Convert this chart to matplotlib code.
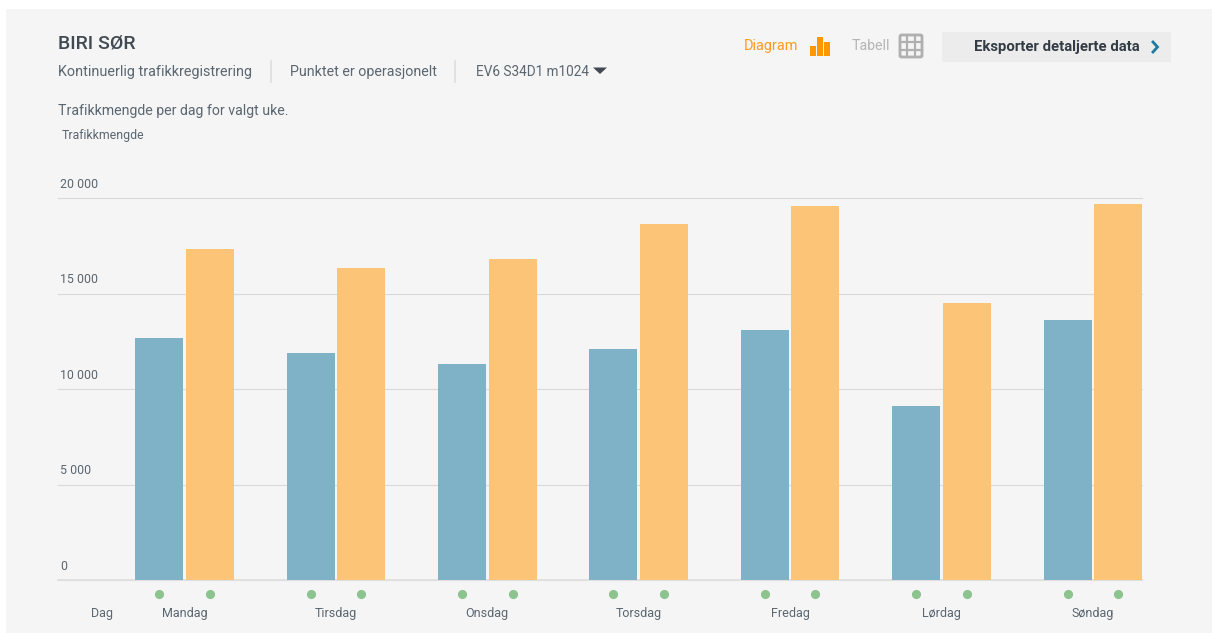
import matplotlib
matplotlib.use("Agg")
import matplotlib.pyplot as plt
from matplotlib.patches import Rectangle, Polygon, FancyBboxPatch

W, H = 1212, 633
days = ["Mandag", "Tirsdag", "Onsdag", "Torsdag", "Fredag", "Lørdag", "Søndag"]
series_a = [12690, 11900, 11320, 12110, 13110, 9120, 13630]
series_b = [17350, 16360, 16830, 18660, 19610, 14520, 19710]
y_ticks = [0, 5000, 10000, 15000, 20000]
y_tick_labels = ["0", "5 000", "10 000", "15 000", "20 000"]

DARK = "#414a52"
MID = "#5a6670"
plt.rcParams["font.family"] = ["Roboto", "DejaVu Sans"]

fig = plt.figure(figsize=(W / 100, H / 100), dpi=100, facecolor="white")

# Overlay in pixel coordinates for the page furniture
bg = fig.add_axes([0, 0, 1, 1], zorder=0)
bg.set_xlim(0, W); bg.set_ylim(H, 0); bg.axis("off")
bg.add_patch(Rectangle((6, 9), W - 6, H - 9, fc="#f5f5f5", ec="none"))

# Chart
x0, x1, ytop, ybot = 58, 1142, 198.5, 580
ax = fig.add_axes([x0 / W, 1 - ybot / H, (x1 - x0) / W, (ybot - ytop) / H], zorder=1)
ax.patch.set_alpha(0)
period, c0 = 151.4, 184.4
ax.set_xlim((x0 - c0) / period, (x1 - c0) / period)
ax.set_ylim(0, 20000)
pos = list(range(len(days)))
bw, off = 48 / period, 25.3 / period
ax.bar([p - off for p in pos], series_a, bw, color="#7fb2c6", zorder=3)
ax.bar([p + off for p in pos], series_b, bw, color="#fbc477", zorder=3)
ax.set_yticks(y_ticks)
ax.set_xticks([])
ax.tick_params(axis="y", length=0, labelleft=False)
ax.grid(axis="y", color="#d9d9d9", lw=0.8, zorder=1, clip_on=False)
for gl in ax.get_ygridlines():
    gl.set_clip_on(False)
ax.set_axisbelow(True)
for s in ["top", "left", "right"]:
    ax.spines[s].set_visible(False)
ax.spines["bottom"].set_color("#e0e0e0")
ax.spines["bottom"].set_linewidth(1.3)

pxu = 20000 / (ybot - ytop)
dots = [p - off for p in pos] + [p + off for p in pos]
ax.plot(dots, [-14 * pxu] * len(dots), "o", ms=6.6, color="#8cc38f", mec="none", clip_on=False, zorder=4)
for p, d in zip(pos, days):
    ax.text(p, -33 * pxu, d, ha="center", va="center", fontsize=9, color=MID, clip_on=False)
for v, lab in zip(y_ticks, y_tick_labels):
    ax.text((60 - c0) / period, v + 14 * pxu, lab, ha="left", va="center", fontsize=8.9, color=MID)

# Header text
def t(x, y, s, fs, color=DARK, **kw):
    bg.text(x, y, s, fontsize=fs, color=color, va="center", ha=kw.pop("ha", "left"), **kw)

t(58, 43.5, "BIRI SØR", 14, weight="medium")
t(58, 72, "Kontinuerlig trafikkregistrering", 10.35, MID)
t(290, 72, "Punktet er operasjonelt", 10.3, MID)
t(475.5, 72, "EV6 S34D1 m1024", 9.8, MID)
t(58, 110.5, "Trafikkmengde per dag for valgt uke.", 10.2, MID)
t(62, 135.5, "Trafikkmengde", 8.8, MID)
t(90.5, 613, "Dag", 9, MID)
for x in (270.5, 455):
    bg.plot([x, x], [61, 82], color="#dddddd", lw=1.2)
bg.add_patch(Polygon([(593, 67.5), (607, 67.5), (600, 74)], fc=DARK, ec="none"))

# Toggle and export
ORANGE = "#ff9a1f"
t(744, 46, "Diagram", 10.45, ORANGE)
for bx, by in ((810, 45.5), (817, 37), (824, 41.5)):
    bg.add_patch(Rectangle((bx, by), 5.8, 55.7 - by, fc="#ff9800", ec="none"))
t(852, 45.5, "Tabell", 10.2, "#b5b5b5")
GREY = "#b0b0b0"
bg.add_patch(FancyBboxPatch((900, 35), 22, 22, boxstyle="round,pad=0,rounding_size=1.5", fc="none", ec=GREY, lw=2))
for k in (1, 2):
    bg.plot([900 + k * 22 / 3] * 2, [35, 57], color=GREY, lw=1.6)
    bg.plot([900, 922], [35 + k * 22 / 3] * 2, color=GREY, lw=1.6)
bg.add_patch(Rectangle((942, 32), 229, 30, fc="#ececec", ec="none"))
t(973.5, 46.5, "Eksporter detaljerte data", 10.75, "#333c44", weight="bold")
bg.plot([1153, 1157.5, 1153], [42, 47, 52], color="#1f7a9c", lw=2.0, solid_joinstyle="miter")

fig.savefig("out.png", dpi=100, facecolor="white")
